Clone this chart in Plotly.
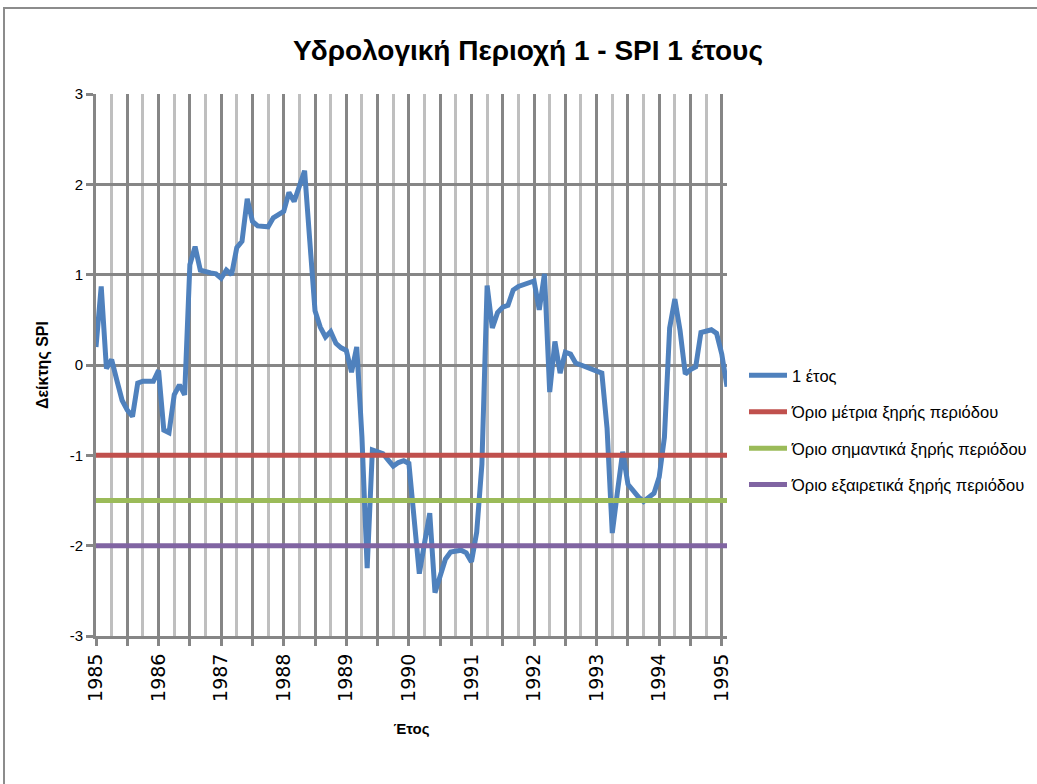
import plotly.graph_objects as go

# Monthly SPI-12 values, Jan 1985 .. Feb 1995 (month index 0..121)
spi_1yr = [
    0.20, 0.87, -0.04, 0.06, -0.17, -0.39, -0.50, -0.57, -0.20, -0.18, -0.18, -0.18,
    -0.06, -0.72, -0.75, -0.33, -0.22, -0.33, 1.11, 1.31, 1.05, 1.03, 1.02, 1.01,
    0.96, 1.05, 1.00, 1.30, 1.37, 1.84, 1.59, 1.54, 1.53, 1.53, 1.63, 1.67,
    1.70, 1.91, 1.81, 1.98, 2.15, 1.37, 0.60, 0.42, 0.31, 0.37, 0.24, 0.19,
    0.16, -0.08, 0.20, -0.80, -2.25, -0.94, -0.96, -0.98, -1.05, -1.12, -1.08, -1.06,
    -1.09, -1.70, -2.31, -1.97, -1.64, -2.52, -2.35, -2.15, -2.07, -2.06, -2.05, -2.08,
    -2.18, -1.85, -1.10, 0.88, 0.41, 0.58, 0.64, 0.66, 0.83, 0.87, 0.89, 0.91,
    0.93, 0.61, 1.01, -0.30, 0.26, -0.09, 0.14, 0.12, 0.02, 0.00, -0.02, -0.04,
    -0.06, -0.09, -0.70, -1.86, -1.40, -0.96, -1.32, -1.40, -1.46, -1.51, -1.47, -1.42,
    -1.24, -0.80, 0.41, 0.73, 0.38, -0.10, -0.05, -0.02, 0.36, 0.37, 0.39, 0.35,
    0.12, -0.24,
]
months = list(range(len(spi_1yr)))

threshold_names = ["Όριο μέτρια ξηρής περιόδου",
                   "Όριο σημαντικά ξηρής περιόδου",
                   "Όριο εξαιρετικά ξηρής περιόδου"]
threshold_values = [-1.0, -1.5, -2.0]
threshold_colors = ["#C0504D", "#9BBB59", "#8064A2"]

year_labels = [str(y) for y in range(1985, 1996)]
major_ticks = list(range(0, 121, 6))          # every 6 months
minor_ticks = list(range(3, 121, 6))          # quarter lines in between
tick_text = [year_labels[i // 12] if i % 12 == 0 else "" for i in major_ticks]

y_ticks = [-3, -2, -1, 0, 1, 2, 3]
y_tick_text = ["-3", "-2", "-1", "0", "1", "2", "3"]

FONT = "Liberation Sans Narrow, Liberation Sans, Arial, sans-serif"
GRID_DARK = "#868686"
GRID_LIGHT = "#BFBFBF"

fig = go.Figure()
fig.add_trace(go.Scatter(
    x=months, y=spi_1yr, mode="lines", name="1 έτος",
    line=dict(color="#4F81BD", width=5), legendgroup="a",
))
for i, (nm, v, c) in enumerate(zip(threshold_names, threshold_values, threshold_colors)):
    fig.add_trace(go.Scatter(
        x=[months[0], months[-1]], y=[v, v], mode="lines", name=nm,
        line=dict(color=c, width=5), legendgroup="g%d" % i,
    ))

W, H = 1037, 784
L, R, T, B = 96, 310, 94, 148
pw, ph = W - L - R, H - T - B

def px_x(p):
    return (p - L) / pw

def px_y(p):
    return (H - B - p) / ph

fig.update_layout(
    width=W, height=H, autosize=False,
    margin=dict(l=L, r=R, t=T, b=B, pad=0, autoexpand=False),
    paper_bgcolor="white", plot_bgcolor="white",
    font=dict(family=FONT, color="#000000", size=14),
    title=dict(text="<b>Υδρολογική Περιοχή 1 - SPI 1 έτους</b>",
               x=528 / W, xref="container", xanchor="center",
               y=1 - 50 / H, yref="container", yanchor="middle",
               font=dict(size=28, family=FONT)),
    showlegend=True,
    legend=dict(x=px_x(744), xanchor="left", y=px_y(358), yanchor="top",
                font=dict(size=16.5, family=FONT), tracegroupgap=12,
                bgcolor="rgba(0,0,0,0)", itemwidth=38),
    xaxis=dict(
        range=[0, 121], tickmode="array", tickvals=major_ticks, ticktext=tick_text,
        tickangle=-90, tickfont=dict(size=19, family="DejaVu Sans, sans-serif"),
        showgrid=True, gridcolor=GRID_DARK, gridwidth=2.5,
        minor=dict(tickmode="array", tickvals=minor_ticks, showgrid=True,
                   gridcolor=GRID_LIGHT, gridwidth=2.5, ticks=""),
        showline=True, linecolor=GRID_DARK, linewidth=3,
        ticks="outside", ticklen=7, tickwidth=2.5, tickcolor=GRID_DARK,
        zeroline=False, automargin=False,
        title=dict(text="<b>Έτος</b>", font=dict(size=15, family=FONT), standoff=23),
    ),
    yaxis=dict(
        range=[-3, 3], tickmode="array", tickvals=y_ticks, ticktext=y_tick_text,
        showgrid=True, gridcolor=GRID_DARK, gridwidth=3,
        showline=True, linecolor=GRID_DARK, linewidth=3,
        ticks="outside", ticklen=7, tickwidth=2.5, tickcolor=GRID_DARK,
        zeroline=False, automargin=False, tickfont=dict(size=15, family=FONT),
        title=dict(text="<b>Δείκτης SPI</b>", font=dict(size=16, family=FONT), standoff=18),
    ),
    shapes=[dict(type="rect", xref="paper", yref="paper",
                 x0=px_x(4), x1=px_x(1100), y0=px_y(900), y1=px_y(8),
                 line=dict(color="#8C8C8C", width=2), fillcolor="rgba(0,0,0,0)",
                 layer="below")],
)

fig.write_html("out.html", config={"displayModeBar": False},
               post_script="document.body.style.margin='0';")
